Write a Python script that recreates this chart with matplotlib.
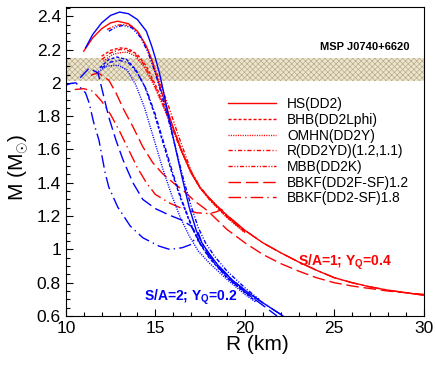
import matplotlib
matplotlib.use('Agg')
import matplotlib.pyplot as plt
from matplotlib.ticker import MultipleLocator, FuncFormatter

plt.rcParams['font.family'] = ['Liberation Sans', 'DejaVu Sans']
plt.rcParams['mathtext.fontset'] = 'custom'
plt.rcParams['mathtext.rm'] = 'Liberation Sans'
plt.rcParams['mathtext.bf'] = 'Liberation Sans:bold'
plt.rcParams['hatch.linewidth'] = 0.5

# ---- S/A=1, Y_Q=0.4 (red) ----
hs1_R = [11.0, 11.5, 12.0, 12.5, 12.9, 13.5, 14.0, 14.5, 14.8, 15.1, 15.4, 15.7, 16.0, 16.5, 17.0, 17.5,
         18.0, 18.5, 19.0, 20.0, 21.0, 22.0, 23.0, 24.0, 25.0, 26.0, 27.0, 28.0, 29.0, 30.0]
hs1_M = [2.19, 2.27, 2.325, 2.36, 2.37, 2.355, 2.31, 2.22, 2.14, 2.03, 1.93, 1.83, 1.73, 1.58, 1.46, 1.37,
         1.31, 1.255, 1.205, 1.115, 1.04, 0.98, 0.925, 0.875, 0.83, 0.80, 0.775, 0.755, 0.74, 0.725]
bhb1_R = [12.0, 12.5, 13.0, 13.5, 14.0, 14.5, 15.0, 15.5, 16.0, 16.5, 17.0, 17.5, 18.0, 19.0, 20.0]
bhb1_M = [2.16, 2.195, 2.21, 2.205, 2.17, 2.10, 1.99, 1.86, 1.73, 1.585, 1.465, 1.37, 1.305, 1.195, 1.105]
omhn1_R = [12.1, 12.6, 13.0, 13.4, 13.9, 14.4, 14.9, 15.4, 15.9, 16.4, 17.0, 17.5, 18.0, 19.0, 20.0]
omhn1_M = [2.13, 2.17, 2.18, 2.185, 2.16, 2.09, 1.99, 1.87, 1.74, 1.61, 1.46, 1.37, 1.30, 1.19, 1.10]
ryd1_R = [12.0, 12.5, 13.0, 13.3, 13.8, 14.3, 14.8, 15.3, 15.8, 16.3, 17.0, 17.5, 18.0, 19.0, 20.0]
ryd1_M = [2.14, 2.18, 2.20, 2.20, 2.18, 2.12, 2.02, 1.90, 1.77, 1.63, 1.46, 1.37, 1.305, 1.195, 1.105]
mbb1_R = [12.3, 12.8, 13.2, 13.7, 14.2, 14.6, 15.0, 15.4, 15.8, 16.3, 17.0, 17.5, 18.0, 19.0, 20.0]
mbb1_M = [2.32, 2.345, 2.35, 2.34, 2.28, 2.19, 2.08, 1.96, 1.84, 1.68, 1.47, 1.375, 1.31, 1.20, 1.11]
bbkf12_1_R = [11.4, 11.8, 12.4, 12.8, 13.25, 13.75, 14.3, 14.86, 15.4, 16.0, 16.6, 17.2, 17.7, 18.0, 19.0,
              20.0, 21.0, 22.0, 23.0, 24.0, 25.0, 26.0, 27.0, 28.0, 29.0, 30.0]
bbkf12_1_M = [2.046, 2.06, 2.016, 1.94, 1.836, 1.736, 1.616, 1.52, 1.455, 1.40, 1.35, 1.29, 1.25, 1.224, 1.12,
              1.04, 0.97, 0.915, 0.87, 0.83, 0.80, 0.78, 0.765, 0.75, 0.74, 0.73]
bbkf18_1_R = [10.5, 11.0, 11.5, 12.0, 12.5, 13.0, 13.5, 14.0, 14.5, 15.0, 15.8, 16.5, 17.3, 18.0, 18.4, 18.7,
              19.0, 20.0, 21.0, 22.0, 23.0, 24.0, 25.0, 26.0, 27.0, 28.0, 29.0, 30.0]
bbkf18_1_M = [1.96, 1.965, 1.95, 1.89, 1.81, 1.71, 1.60, 1.49, 1.40, 1.33, 1.278, 1.245, 1.22, 1.215, 1.225, 1.24,
              1.205, 1.115, 1.04, 0.98, 0.925, 0.875, 0.83, 0.80, 0.775, 0.755, 0.74, 0.725]

# ---- S/A=2, Y_Q=0.2 (blue) ----
hs2_R = [11.1, 11.5, 12.0, 12.5, 13.0, 13.5, 14.0, 14.5, 14.8, 15.0, 15.25, 15.45, 15.7, 16.0, 16.5, 16.9,
         17.3, 17.6, 18.0, 18.5, 19.3, 20.0, 21.0, 22.0, 22.2]
hs2_M = [2.21, 2.29, 2.36, 2.405, 2.425, 2.415, 2.38, 2.31, 2.22, 2.15, 2.05, 1.95, 1.82, 1.67, 1.43, 1.25,
         1.11, 1.04, 0.975, 0.905, 0.816, 0.755, 0.68, 0.61, 0.595]
bhb2_R = [11.9, 12.4, 12.85, 13.4, 13.9, 14.4, 14.9, 15.4, 15.9, 16.4, 16.9, 17.4, 18.0, 19.0, 20.0, 20.6]
bhb2_M = [2.09, 2.14, 2.155, 2.14, 2.08, 1.98, 1.83, 1.65, 1.47, 1.31, 1.17, 1.05, 0.95, 0.83, 0.74, 0.69]
omhn2_R = [11.7, 12.3, 12.9, 13.4, 13.9, 14.4, 14.9, 15.4, 15.9, 16.4, 16.9, 17.4, 18.0, 19.0, 20.0, 20.6]
omhn2_M = [2.06, 2.10, 2.106, 2.08, 1.99, 1.85, 1.67, 1.49, 1.33, 1.19, 1.08, 0.99, 0.92, 0.82, 0.73, 0.685]
ryd2_R = [12.0, 12.5, 13.0, 13.5, 14.0, 14.5, 15.0, 15.5, 16.0, 16.5, 17.0, 17.5, 18.0, 19.0, 20.0, 20.6]
ryd2_M = [2.09, 2.125, 2.135, 2.12, 2.06, 1.96, 1.81, 1.63, 1.45, 1.29, 1.15, 1.04, 0.955, 0.835, 0.745, 0.70]
mbb2_R = [12.4, 12.8, 13.2, 13.7, 14.2, 14.6, 15.0, 15.4, 15.8, 16.2, 16.6, 17.0, 17.4, 17.8, 18.3, 19.0, 20.0, 20.8]
mbb2_M = [2.31, 2.335, 2.345, 2.33, 2.27, 2.18, 2.06, 1.91, 1.75, 1.58, 1.41, 1.26, 1.13, 1.04, 0.96, 0.87, 0.77, 0.70]
bbkf12_2_R = [10.8, 11.3, 11.8, 12.07, 12.4, 12.8, 13.2, 13.75, 14.3, 15.0, 15.8, 16.5, 17.0, 17.3, 17.5, 18.0,
              18.5, 19.3, 20.0, 21.0, 21.8]
bbkf12_2_M = [2.03, 2.088, 2.06, 1.94, 1.794, 1.656, 1.536, 1.40, 1.30, 1.245, 1.205, 1.175, 1.14, 1.08, 1.035, 0.965,
              0.895, 0.805, 0.745, 0.665, 0.60]
bbkf18_2_R = [10.0, 10.3, 10.56, 11.1, 11.3, 11.56, 11.85, 12.2, 12.4, 12.9, 13.6, 14.3, 15.2, 15.8, 16.5, 17.0,
              17.3, 17.4, 17.6, 18.0, 18.5, 19.3, 20.0, 21.0, 22.0, 22.2]
bbkf18_2_M = [1.986, 1.997, 2.0, 1.94, 1.88, 1.76, 1.656, 1.458, 1.374, 1.254, 1.14, 1.07, 1.02, 1.0, 1.01, 1.03,
              1.08, 1.10, 1.04, 0.975, 0.905, 0.816, 0.755, 0.68, 0.61, 0.595]

labels = ['HS(DD2)', 'BHB(DD2Lphi)', 'OMHN(DD2Y)', 'R(DD2YD)(1.2,1.1)', 'MBB(DD2K)',
          'BBKF(DD2F-SF)1.2', 'BBKF(DD2-SF)1.8']

# MSP J0740+6620 mass band
band_lo, band_hi = 2.01, 2.15

styles = ['-', (0, (2.2, 1.4)), (0, (0.8, 0.9)), (0, (3, 1.5, 0.8, 1.5)),
          (0, (3, 1.2, 0.8, 1.2, 0.8, 1.2)), (0, (9, 3.5)), (0, (9, 3, 1, 3))]
red_curves = [(hs1_R, hs1_M), (bhb1_R, bhb1_M), (omhn1_R, omhn1_M), (ryd1_R, ryd1_M),
              (mbb1_R, mbb1_M), (bbkf12_1_R, bbkf12_1_M), (bbkf18_1_R, bbkf18_1_M)]
blue_curves = [(hs2_R, hs2_M), (bhb2_R, bhb2_M), (omhn2_R, omhn2_M), (ryd2_R, ryd2_M),
               (mbb2_R, mbb2_M), (bbkf12_2_R, bbkf12_2_M), (bbkf18_2_R, bbkf18_2_M)]

fig = plt.figure(figsize=(4.36, 3.72), dpi=100)
ax = fig.add_axes([0.151, 0.1505, 0.821, 0.8305])

ax.axhspan(band_lo, band_hi, facecolor='#ece5d0', edgecolor='#b9ab86', hatch='xxxxxx', lw=0, zorder=0)

handles = []
for (r, m), ls, lab in zip(red_curves, styles, labels):
    h, = ax.plot(r, m, color='red', ls=ls, lw=1.0, label=lab)
    handles.append(h)
for (r, m), ls in zip(blue_curves, styles):
    ax.plot(r, m, color='blue', ls=ls, lw=1.0)

ax.set_xlim(10, 30)
ax.set_ylim(0.6, 2.455)
ax.xaxis.set_major_locator(MultipleLocator(5))
ax.xaxis.set_minor_locator(MultipleLocator(1))
ax.yaxis.set_major_locator(MultipleLocator(0.2))
ax.yaxis.set_minor_locator(MultipleLocator(0.05))
ax.yaxis.set_major_formatter(FuncFormatter(lambda v, p: '%g' % round(v, 2)))
ax.tick_params(which='both', direction='in', top=False, right=False, labelsize=12.5)
ax.tick_params(which='major', length=5, width=0.8)
ax.tick_params(which='minor', length=2.8, width=0.8)

ax.set_xlabel('R (km)', fontsize=15)
ax.set_ylabel(r'M (M$_{\odot}$)', fontsize=15)
ax.xaxis.set_label_coords(0.536, -0.06)
ax.yaxis.set_label_coords(-0.097, 0.48)

ax.text(29.2, 2.215, 'MSP J0740+6620', ha='right', va='center', fontsize=8, fontweight='bold')
ax.text(25.6, 0.925, r'S/A=1; Y$_\mathbf{Q}$=0.4', color='red', ha='center', va='center',
        fontsize=10, fontweight='bold')
ax.text(17.0, 0.715, r'S/A=2; Y$_\mathbf{Q}$=0.2', color='blue', ha='center', va='center',
        fontsize=10, fontweight='bold')

ax.legend(handles=handles, loc='upper left', bbox_to_anchor=(0.4525, 0.708), frameon=False,
          fontsize=9.9, handlelength=3.5, handletextpad=0.8, labelspacing=0.12,
          borderpad=0, borderaxespad=0)

fig.savefig('out.png', dpi=100)
